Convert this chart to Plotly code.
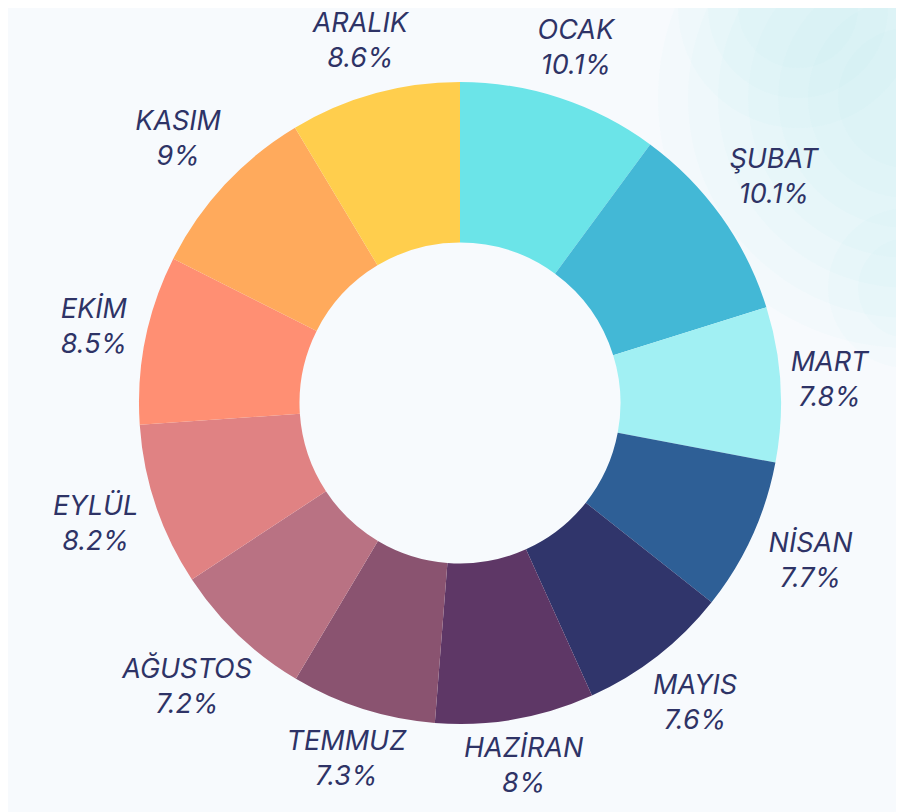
import math
import plotly.graph_objects as go

months = ["OCAK", "ŞUBAT", "MART", "NİSAN", "MAYIS", "HAZİRAN",
          "TEMMUZ", "AĞUSTOS", "EYLÜL", "EKİM", "KASIM", "ARALIK"]
shares = [10.1, 10.1, 7.8, 7.7, 7.6, 8, 7.3, 7.2, 8.2, 8.5, 9, 8.6]
colors = ["#6BE4E8", "#43B8D6", "#A1F0F3", "#2E5F96", "#30356B", "#5E3766",
          "#8A5370", "#B97283", "#E08283", "#FF8F73", "#FFAA5C", "#FFCE4D"]

# ---- geometry (pixels) ----
SIDE = 790            # square polar area
R_MAX = SIDE / 2
R_OUT = 321           # donut outer radius
R_IN = 160.5          # donut inner radius (hole 0.5)
GAP = 11              # gap between donut and label box
FS = 27               # label font size

# slice widths / mid-angles (degrees clockwise from 12 o'clock), from the data
total = sum(shares)
widths = [v / total * 360 for v in shares]
mid_angles = []
run = 0.0
for w in widths:
    mid_angles.append(run + w / 2)
    run += w

label_texts = [f"<i>{m}</i><br><i>{v:g}%</i>" for m, v in zip(months, shares)]

# place each label just outside the ring: offset by the extent of its text box
label_r = []
for m, v, a in zip(months, shares, mid_angles):
    half_w = max(len(m) * 0.68 * FS, len(f"{v:g}%") * 0.62 * FS) / 2
    half_h = 28
    t = math.radians(a)
    support = half_w * abs(math.sin(t)) + half_h * abs(math.cos(t))
    label_r.append(min((R_OUT + GAP + support) / R_MAX, 1.0))

fig = go.Figure()
fig.add_trace(go.Barpolar(
    theta=mid_angles,
    width=widths,
    base=[R_IN / R_MAX] * len(shares),
    r=[(R_OUT - R_IN) / R_MAX] * len(shares),
    marker=dict(color=colors, line=dict(width=0)),
    showlegend=False, hoverinfo="skip",
))
fig.add_trace(go.Scatterpolar(
    r=label_r,
    theta=mid_angles,
    mode="text",
    text=label_texts,
    textposition="middle center",
    textfont=dict(family="Inter", size=FS, color="#2E3366"),
    cliponaxis=False,
    showlegend=False, hoverinfo="skip",
))

# soft watercolor patch top-right (stacked faint discs)
L, T = 57, 0
shapes = []
for cx, cy, radii in [(900, 90, [250, 220, 190, 160, 130, 100, 70]),
                      (790, 0, [120, 90, 60]),
                      (900, 280, [80, 50])]:
    for r in radii:
        shapes.append(dict(type="circle", xref="paper", yref="paper",
                           xsizemode="pixel", ysizemode="pixel",
                           xanchor=(cx - L) / SIDE, yanchor=1 - (cy - T) / SIDE,
                           x0=-r, x1=r, y0=-r, y1=r,
                           fillcolor="rgba(150,228,238,0.04)", line=dict(width=0),
                           layer="below"))

fig.update_layout(
    width=904, height=812,
    margin=dict(l=L, r=904 - L - SIDE, t=T, b=812 - T - SIDE),
    paper_bgcolor="#F7FAFD",
    plot_bgcolor="#F7FAFD",
    polar=dict(
        domain=dict(x=[0, 1], y=[0, 1]),
        bgcolor="rgba(0,0,0,0)",
        radialaxis=dict(visible=False, range=[0, 1]),
        angularaxis=dict(visible=False, rotation=90, direction="clockwise"),
    ),
    shapes=shapes,
)

fig.write_html("out.html")
